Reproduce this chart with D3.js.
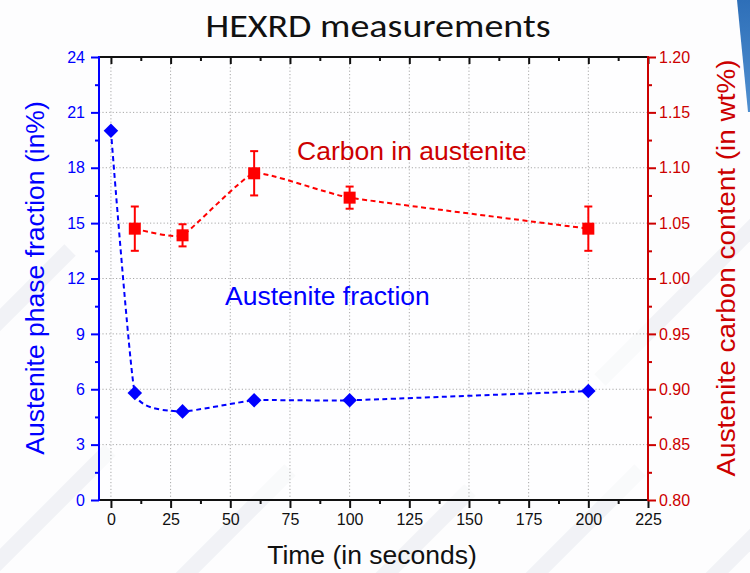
<!DOCTYPE html>
<html>
<head>
<meta charset="utf-8">
<script src="https://cdn.jsdelivr.net/npm/d3@7"></script>
<style>
  html, body { margin: 0; padding: 0; background: #fff; }
  svg { display: block; }
</style>
</head>
<body>
<svg id="chart" width="750" height="573"></svg>
<script>
// ---------------- data ----------------
const times = [0, 10, 30, 60, 100, 200];
const austeniteFraction = [20.0, 5.8, 4.8, 5.4, 5.4, 5.9];
const carbonTimes = [10, 30, 60, 100, 200];
const carbonContent = [1.045, 1.039, 1.095, 1.073, 1.045];
const carbonError = [0.020, 0.010, 0.020, 0.010, 0.020];
const xTicks = [0, 25, 50, 75, 100, 125, 150, 175, 200, 225];
const yLeftTicks = [0, 3, 6, 9, 12, 15, 18, 21, 24];
const yRightTicks = [0.80, 0.85, 0.90, 0.95, 1.00, 1.05, 1.10, 1.15, 1.20];

// ---------------- layout ----------------
const svg = d3.select("#chart");
const L = 99, R = 648, T = 57, B = 500;
const BLUE = "#0000ff", RED = "#ff0000", DARKRED = "#cc0000";
const FONT = "'Liberation Sans', Arial, sans-serif";

const x = d3.scaleLinear().domain([-5, 225]).range([L, R]);
const yL = d3.scaleLinear().domain([0, 24]).range([B, T]);
const yR = d3.scaleLinear().domain([0.8, 1.2]).range([B, T]);

// background decoration (faint slide stripes)
const bg = svg.append("g");
bg.append("rect").attr("width", 750).attr("height", 573).attr("fill", "#fdfdfe");
const stripes = [[-60, 620], [120, 640], [300, 660], [470, 640], [640, 650], [-100, 420], [600, 380]];
stripes.forEach(([sx, sy]) => {
  bg.append("line").attr("x1", sx).attr("y1", sy).attr("x2", sx + 170).attr("y2", sy - 170)
    .attr("stroke", "#eceef3").attr("stroke-width", 16).attr("opacity", 0.7);
});
const grad = svg.append("defs").append("linearGradient").attr("id", "cg")
  .attr("x1", 0).attr("y1", 0).attr("x2", 0).attr("y2", 1);
grad.append("stop").attr("offset", 0).attr("stop-color", "#2e6fb8");
grad.append("stop").attr("offset", 1).attr("stop-color", "#4f8fd0");
bg.append("path").attr("d", "M737,0 L750,0 L750,112 L748,112 Z").attr("fill", "url(#cg)");

// plot area background
svg.append("rect").attr("x", L).attr("y", T).attr("width", R - L).attr("height", B - T)
  .attr("fill", "#fff").attr("opacity", 0.6);

// ---------------- grid ----------------
const grid = svg.append("g").attr("stroke", "#a8a8a8").attr("stroke-width", 1).attr("stroke-dasharray", "1.2,2.2");
xTicks.filter(v => v > 0 && v < 225).concat([0]).forEach(v => {
  grid.append("line").attr("x1", x(v)).attr("x2", x(v)).attr("y1", T).attr("y2", B);
});
yLeftTicks.filter(v => v > 0 && v < 24).forEach(v => {
  grid.append("line").attr("x1", L).attr("x2", R).attr("y1", yL(v)).attr("y2", yL(v));
});

// ---------------- axes ----------------
function styleAxis(g, color) {
  g.selectAll("path.domain").remove();
  g.selectAll(".tick line").attr("stroke", color).attr("stroke-width", 2);
  g.selectAll(".tick text").attr("fill", color).attr("font-family", FONT).attr("font-size", 16);
}
const xMinor = d3.range(0, 226, 12.5).filter(v => v % 25 !== 0);
const yLMinor = d3.range(1.5, 24, 3);
const yRMinor = yLMinor.map(v => 0.8 + v / 60);

// bottom
const gb = svg.append("g").attr("transform", `translate(0,${B})`)
  .call(d3.axisBottom(x).tickValues(xTicks).tickSize(8).tickPadding(6).tickFormat(d3.format("d")));
styleAxis(gb, "#111");
svg.append("g").attr("transform", `translate(0,${B})`)
  .call(d3.axisBottom(x).tickValues(xMinor).tickSize(4).tickFormat(""))
  .call(g => styleAxis(g, "#111"));
// top (inward ticks)
svg.append("g").attr("transform", `translate(0,${T})`)
  .call(d3.axisTop(x).tickValues(xTicks).tickSize(-7).tickFormat(""))
  .call(g => styleAxis(g, "#111"));
svg.append("g").attr("transform", `translate(0,${T})`)
  .call(d3.axisTop(x).tickValues(xMinor).tickSize(-4).tickFormat(""))
  .call(g => styleAxis(g, "#111"));
// left
const gl = svg.append("g").attr("transform", `translate(${L},0)`)
  .call(d3.axisLeft(yL).tickValues(yLeftTicks).tickSize(8).tickPadding(6).tickFormat(d3.format("d")));
styleAxis(gl, BLUE);
svg.append("g").attr("transform", `translate(${L},0)`)
  .call(d3.axisLeft(yL).tickValues(yLMinor).tickSize(4).tickFormat(""))
  .call(g => styleAxis(g, BLUE));
// right
const gr = svg.append("g").attr("transform", `translate(${R},0)`)
  .call(d3.axisRight(yR).tickValues(yRightTicks).tickSize(8).tickPadding(3).tickFormat(d3.format(".2f")));
styleAxis(gr, DARKRED);
svg.append("g").attr("transform", `translate(${R},0)`)
  .call(d3.axisRight(yR).tickValues(yRMinor).tickSize(4).tickFormat(""))
  .call(g => styleAxis(g, DARKRED));

// frame lines
svg.append("line").attr("x1", L).attr("x2", R).attr("y1", T).attr("y2", T).attr("stroke", "#111").attr("stroke-width", 2);
svg.append("line").attr("x1", L).attr("x2", R).attr("y1", B).attr("y2", B).attr("stroke", "#111").attr("stroke-width", 2);
svg.append("line").attr("x1", L).attr("x2", L).attr("y1", T - 1).attr("y2", B + 1).attr("stroke", BLUE).attr("stroke-width", 2);
svg.append("line").attr("x1", R).attr("x2", R).attr("y1", T - 1).attr("y2", B + 1).attr("stroke", DARKRED).attr("stroke-width", 2);

// ---------------- series ----------------
const blueData = times.map((t, i) => ({ t, v: austeniteFraction[i] }));
const redData = carbonTimes.map((t, i) => ({ t, v: carbonContent[i], e: carbonError[i] }));

const curve = d3.curveCardinal.tension(0.6);
svg.append("path").datum(blueData)
  .attr("d", d3.line().x(d => x(d.t)).y(d => yL(d.v)).curve(curve))
  .attr("fill", "none").attr("stroke", BLUE).attr("stroke-width", 2).attr("stroke-dasharray", "5,3.5");
svg.append("path").datum(redData)
  .attr("d", d3.line().x(d => x(d.t)).y(d => yR(d.v)).curve(curve))
  .attr("fill", "none").attr("stroke", RED).attr("stroke-width", 2).attr("stroke-dasharray", "5,3.5");

// error bars
const eg = svg.append("g").attr("stroke", RED).attr("stroke-width", 2);
redData.forEach(d => {
  const cx = x(d.t), y1 = yR(d.v + d.e), y2 = yR(d.v - d.e);
  eg.append("line").attr("x1", cx).attr("x2", cx).attr("y1", y1).attr("y2", y2);
  eg.append("line").attr("x1", cx - 4).attr("x2", cx + 4).attr("y1", y1).attr("y2", y1);
  eg.append("line").attr("x1", cx - 4).attr("x2", cx + 4).attr("y1", y2).attr("y2", y2);
});

// markers
svg.append("g").selectAll("path").data(blueData).join("path")
  .attr("transform", d => `translate(${x(d.t)},${yL(d.v)})`)
  .attr("d", d3.symbol(d3.symbolDiamond2, 135)())
  .attr("fill", BLUE);
svg.append("g").selectAll("rect").data(redData).join("rect")
  .attr("x", d => x(d.t) - 6).attr("y", d => yR(d.v) - 6)
  .attr("width", 12).attr("height", 12).attr("fill", RED);

// ---------------- text ----------------
svg.append("text").attr("x", 378).attr("y", 37).attr("text-anchor", "middle")
  .attr("font-family", "Carlito, 'Liberation Sans Narrow', Lato, sans-serif").attr("font-size", 33)
  .attr("fill", "#111").attr("textLength", 345).attr("lengthAdjust", "spacingAndGlyphs")
  .text("HEXRD measurements");

svg.append("text").attr("x", 297).attr("y", 160)
  .attr("font-family", FONT).attr("font-size", 26.5).attr("fill", DARKRED)
  .text("Carbon in austenite");
svg.append("text").attr("x", 225).attr("y", 305)
  .attr("font-family", FONT).attr("font-size", 26.5).attr("fill", BLUE)
  .text("Austenite fraction");

svg.append("text").attr("transform", "translate(44,278) rotate(-90)").attr("text-anchor", "middle")
  .attr("font-family", FONT).attr("font-size", 26.5).attr("fill", BLUE)
  .text("Austenite phase fraction (in%)");
svg.append("text").attr("transform", "translate(735,268) rotate(-90)").attr("text-anchor", "middle")
  .attr("font-family", FONT).attr("font-size", 26.5).attr("fill", DARKRED)
  .attr("textLength", 417).attr("lengthAdjust", "spacingAndGlyphs")
  .text("Austenite carbon content (in wt%)");
svg.append("text").attr("x", 372).attr("y", 564).attr("text-anchor", "middle")
  .attr("font-family", FONT).attr("font-size", 26.5).attr("fill", "#111")
  .text("Time (in seconds)");
</script>
</body>
</html>
